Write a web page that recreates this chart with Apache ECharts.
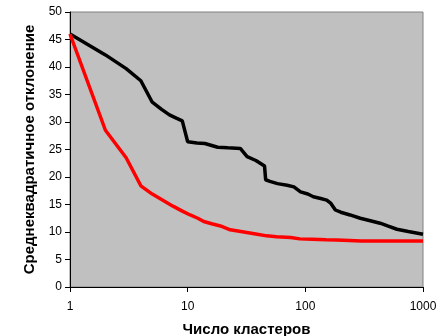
<!DOCTYPE html>
<html>
<head>
<meta charset="utf-8">
<script src="https://cdn.jsdelivr.net/npm/echarts@6/dist/echarts.min.js"></script>
<style>
  html, body { margin: 0; padding: 0; background: #fff; }
  #chart { width: 446px; height: 336px; }
</style>
</head>
<body>
<div id="chart"></div>
<script>
// Число кластеров -> среднеквадратичное отклонение
const blackX = [1, 2, 3, 4, 5, 6, 7, 8, 9, 10, 12, 14, 18, 22, 28, 32, 38, 45, 46, 50, 58, 70, 80, 91, 105, 117, 135, 152, 165, 180, 200, 240, 293, 350, 432, 500, 600, 750, 1000];
const blackY = [46, 42.2, 39.7, 37.5, 33.6, 32.3, 31.3, 30.7, 30.2, 26.4, 26.2, 26.1, 25.4, 25.3, 25.2, 23.7, 23.0, 22.0, 19.5, 19.2, 18.8, 18.5, 18.2, 17.3, 16.9, 16.4, 16.1, 15.8, 15.2, 14.0, 13.6, 13.1, 12.5, 12.1, 11.6, 11.1, 10.5, 10.1, 9.6];

const redX = [1, 2, 3, 4, 5, 6, 7.5, 9, 10.5, 12.2, 13.7, 16, 19, 23, 30, 39, 47, 57, 75, 77, 90, 114, 150, 185, 190, 300, 500, 1000];
const redY = [46, 28.5, 23.5, 18.4, 16.9, 15.9, 14.7, 13.8, 13.1, 12.5, 11.9, 11.5, 11.1, 10.4, 10.0, 9.6, 9.3, 9.15, 9.0, 8.85, 8.75, 8.7, 8.6, 8.55, 8.35, 8.35, 8.35, 8.35];

const yTicks = { min: 0, max: 50, interval: 5 };
const xRange = { min: 1, max: 1000 };

const chart = echarts.init(document.getElementById('chart'), null, { renderer: 'canvas' });

const font = 'Liberation Sans, Arial, sans-serif';

chart.setOption({
  animation: false,
  grid: {
    left: 70,
    right: 23,
    top: 12,
    bottom: 49,
    outerBoundsMode: 'none',
    containLabel: false,
    show: true,
    backgroundColor: '#c0c0c0',
    borderColor: '#808080',
    borderWidth: 1,
  },
  xAxis: {
    type: 'log',
    logBase: 10,
    min: xRange.min,
    max: xRange.max,
    name: 'Число кластеров',
    nameLocation: 'middle',
    nameGap: 35,
    nameTextStyle: { fontFamily: font, fontWeight: 'bold', fontSize: 15, color: '#000' },
    axisLine: { lineStyle: { color: '#000', width: 1 } },
    axisTick: { show: true, length: 5, lineStyle: { color: '#000' } },
    minorTick: { show: false },
    splitLine: { show: false },
    axisLabel: {
      fontFamily: font, fontSize: 12, color: '#000', margin: 14,
      formatter: (v) => String(Math.round(v)),
    },
  },
  yAxis: {
    type: 'value',
    min: yTicks.min,
    max: yTicks.max,
    interval: yTicks.interval,
    name: 'Среднеквадратичное отклонение',
    nameLocation: 'middle',
    nameGap: 32,
    nameTextStyle: { fontFamily: font, fontWeight: 'bold', fontSize: 15, color: '#000' },
    axisLine: { show: true, lineStyle: { color: '#000', width: 1 } },
    axisTick: { show: true, length: 5, lineStyle: { color: '#000' } },
    splitLine: { show: false },
    axisLabel: { fontFamily: font, fontSize: 12, color: '#000', margin: 8 },
  },
  series: [
    {
      name: 'black',
      type: 'line',
      data: blackX.map((x, i) => [x, blackY[i]]),
      showSymbol: false,
      lineStyle: { color: '#000', width: 3.5 },
      z: 3,
    },
    {
      name: 'red',
      type: 'line',
      data: redX.map((x, i) => [x, redY[i]]),
      showSymbol: false,
      lineStyle: { color: '#ff0000', width: 3.5 },
      z: 4,
    },
  ],
});
</script>
</body>
</html>
